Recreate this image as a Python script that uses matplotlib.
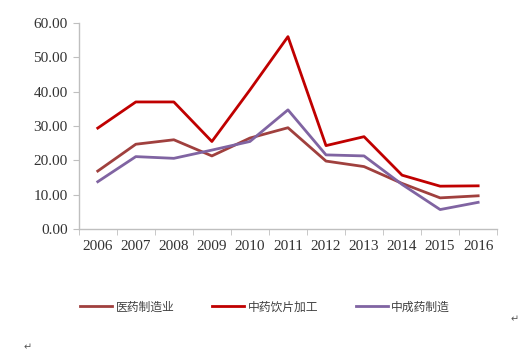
import numpy as np
import matplotlib.pyplot as plt

years = ['2006', '2007', '2008', '2009', '2010', '2011', '2012', '2013', '2014', '2015', '2016']
yiyao = [16.9, 24.7, 26.0, 21.3, 26.5, 29.5, 19.8, 18.2, 13.3, 9.1, 9.7]
yinpian = [29.4, 37.0, 37.0, 25.5, 40.5, 56.0, 24.3, 26.9, 15.7, 12.5, 12.6]
zhongcheng = [13.8, 21.1, 20.6, 23.0, 25.5, 34.7, 21.6, 21.3, 13.0, 5.7, 7.8]
names = ['医药制造业', '中药饮片加工', '中成药制造']

plt.rcParams['font.family'] = ['Noto Sans CJK SC', 'DejaVu Sans']

fig = plt.figure(figsize=(5.25, 3.52), dpi=100)
ax = fig.add_axes([0.150, 0.349, 0.797, 0.586])

x = np.arange(len(years))
ax.plot(x, yiyao, color='#A0403E', lw=2.0, label=names[0])
ax.plot(x, yinpian, color='#C00000', lw=2.0, label=names[1])
ax.plot(x, zhongcheng, color='#8064A2', lw=2.0, label=names[2])

ax.set_xlim(-0.5, len(years) - 0.5)
ax.set_ylim(0, 60)
ax.set_yticks(np.arange(0, 61, 10))
ax.set_yticklabels(['%.2f' % v for v in np.arange(0, 61, 10)],
                   fontfamily='Liberation Serif', fontsize=11, color='#333333')
ax.set_xticks(x)
ax.set_xticklabels(years, fontfamily='Liberation Serif', fontsize=11, color='#333333')
ax.set_xticks(np.arange(-0.5, len(years)), minor=True)
ax.tick_params(axis='x', which='major', length=0, pad=8)
ax.tick_params(axis='x', which='minor', length=4, color='#BFBFBF')
ax.tick_params(axis='y', length=4, color='#BFBFBF', pad=4)
for s in ['top', 'right']:
    ax.spines[s].set_visible(False)
for s in ['left', 'bottom']:
    ax.spines[s].set_color('#BFBFBF')
    ax.spines[s].set_linewidth(1)

leg = fig.legend(loc='center', bbox_to_anchor=(0.505, 0.128), ncol=3, frameon=False,
                 fontsize=8.5, handlelength=2.7, columnspacing=3.2, handletextpad=0.3)
for t in leg.get_texts():
    t.set_color('#404040')

fig.text(0.981, 0.085, '↵', fontsize=7, color='#555555', ha='center', family='DejaVu Sans')
fig.text(0.053, 0.005, '↵', fontsize=7, color='#555555', ha='center', family='DejaVu Sans')

fig.savefig('out.png', dpi=100)
